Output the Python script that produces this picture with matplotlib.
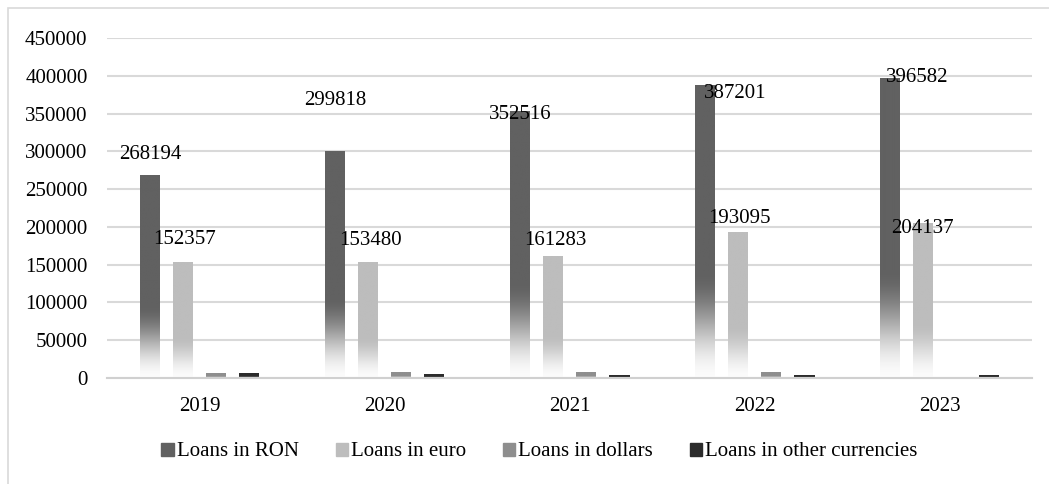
import numpy as np
import matplotlib
matplotlib.use("Agg")
import matplotlib.pyplot as plt
from matplotlib.colors import to_rgb
from matplotlib.patches import Rectangle

years = ["2019", "2020", "2021", "2022", "2023"]
series = ["Loans in RON", "Loans in euro", "Loans in dollars", "Loans in other currencies"]
loans_ron = [268194, 299818, 352516, 387201, 396582]
loans_euro = [152357, 153480, 161283, 193095, 204137]
loans_dollars = [6500, 7000, 7000, 7500, 0]
loans_other = [6000, 4500, 3500, 3500, 3500]

colors = ["#616161", "#bdbdbd", "#8e8e8e", "#2c2c2c"]
# hand placed data labels in Excel: offsets (px) from bar top centre
ron_label_off = [(0, 21), (0, 51), (0, -3), (30, -8), (27, 1)]
euro_label_off = [(2, 23), (2, 22), (2, 16), (1, 14), (-1, -5)]

plt.rcParams["font.family"] = ["Liberation Serif", "DejaVu Serif"]
plt.rcParams["font.size"] = 15

fig = plt.figure(figsize=(10.49, 4.84), dpi=100)
ax = fig.add_axes([107 / 1049, 106 / 484, 925 / 1049, 340 / 484])

x = np.arange(len(years))
step = 33 / 185
width = 20 / 185
values = [loans_ron, loans_euro, loans_dollars, loans_other]


def gradient(color, n=300, fade=0.36):
    c = np.array(to_rgb(color))
    w = np.array([0.985, 0.985, 0.985])
    t = np.linspace(0, 1, n)  # 0 bottom, 1 top
    u = np.clip(t / fade, 0, 1)
    f = (u * u * (3 - 2 * u))[:, None]
    return (w * (1 - f) + c * f)[:, None, :]


for i, vals in enumerate(values):
    bars = ax.bar(x + (i - 1.5) * step, vals, width, color="none",
                  edgecolor="none", label=series[i], zorder=2)
    g = gradient(colors[i])
    for b in bars:
        if b.get_height() <= 0:
            continue
        ax.imshow(g, extent=(b.get_x(), b.get_x() + b.get_width(), 0, b.get_height()),
                  origin="lower", aspect="auto", zorder=2, interpolation="bilinear")

ax.set_xlim(-0.5, len(years) - 0.5)
ax.set_ylim(0, 450000)
ax.set_yticks(np.arange(0, 450001, 50000))
ax.set_xticks(x)
ax.set_xticklabels(years)
ax.tick_params(length=0, axis="y", pad=14)
ax.tick_params(length=0, axis="x", pad=14)
ax.grid(axis="y", color="#d9d9d9", linewidth=1.5, zorder=0)
ax.set_axisbelow(True)
for s in ["top", "right", "left"]:
    ax.spines[s].set_visible(False)
ax.spines["bottom"].set_color("#d0d0d0")
ax.spines["bottom"].set_linewidth(1.5)

for j in range(len(years)):
    for vals, offs, k in [(loans_ron, ron_label_off, 0), (loans_euro, euro_label_off, 1)]:
        dx, dy = offs[j]
        ax.annotate(str(vals[j]), (x[j] + (k - 1.5) * step, vals[j]),
                    xytext=(dx * 0.72, dy * 0.72), textcoords="offset points",
                    ha="center", va="center", fontsize=15)

handles = [Rectangle((0, 0), 1, 1, color=c) for c in colors]
fig.legend(handles, series, loc="center", bbox_to_anchor=(539.5 / 1049, 32 / 484),
           ncol=4, frameon=False, handlelength=0.6, handleheight=0.6,
           handletextpad=0.15, columnspacing=1.75, fontsize=15)

fig.patches.append(Rectangle((8 / 1049, -0.1), 1.2, 1.1 - 8.5 / 484,
                             transform=fig.transFigure, fill=False,
                             edgecolor="#d9d9d9", linewidth=1.2))

fig.savefig("out.png", dpi=100)
